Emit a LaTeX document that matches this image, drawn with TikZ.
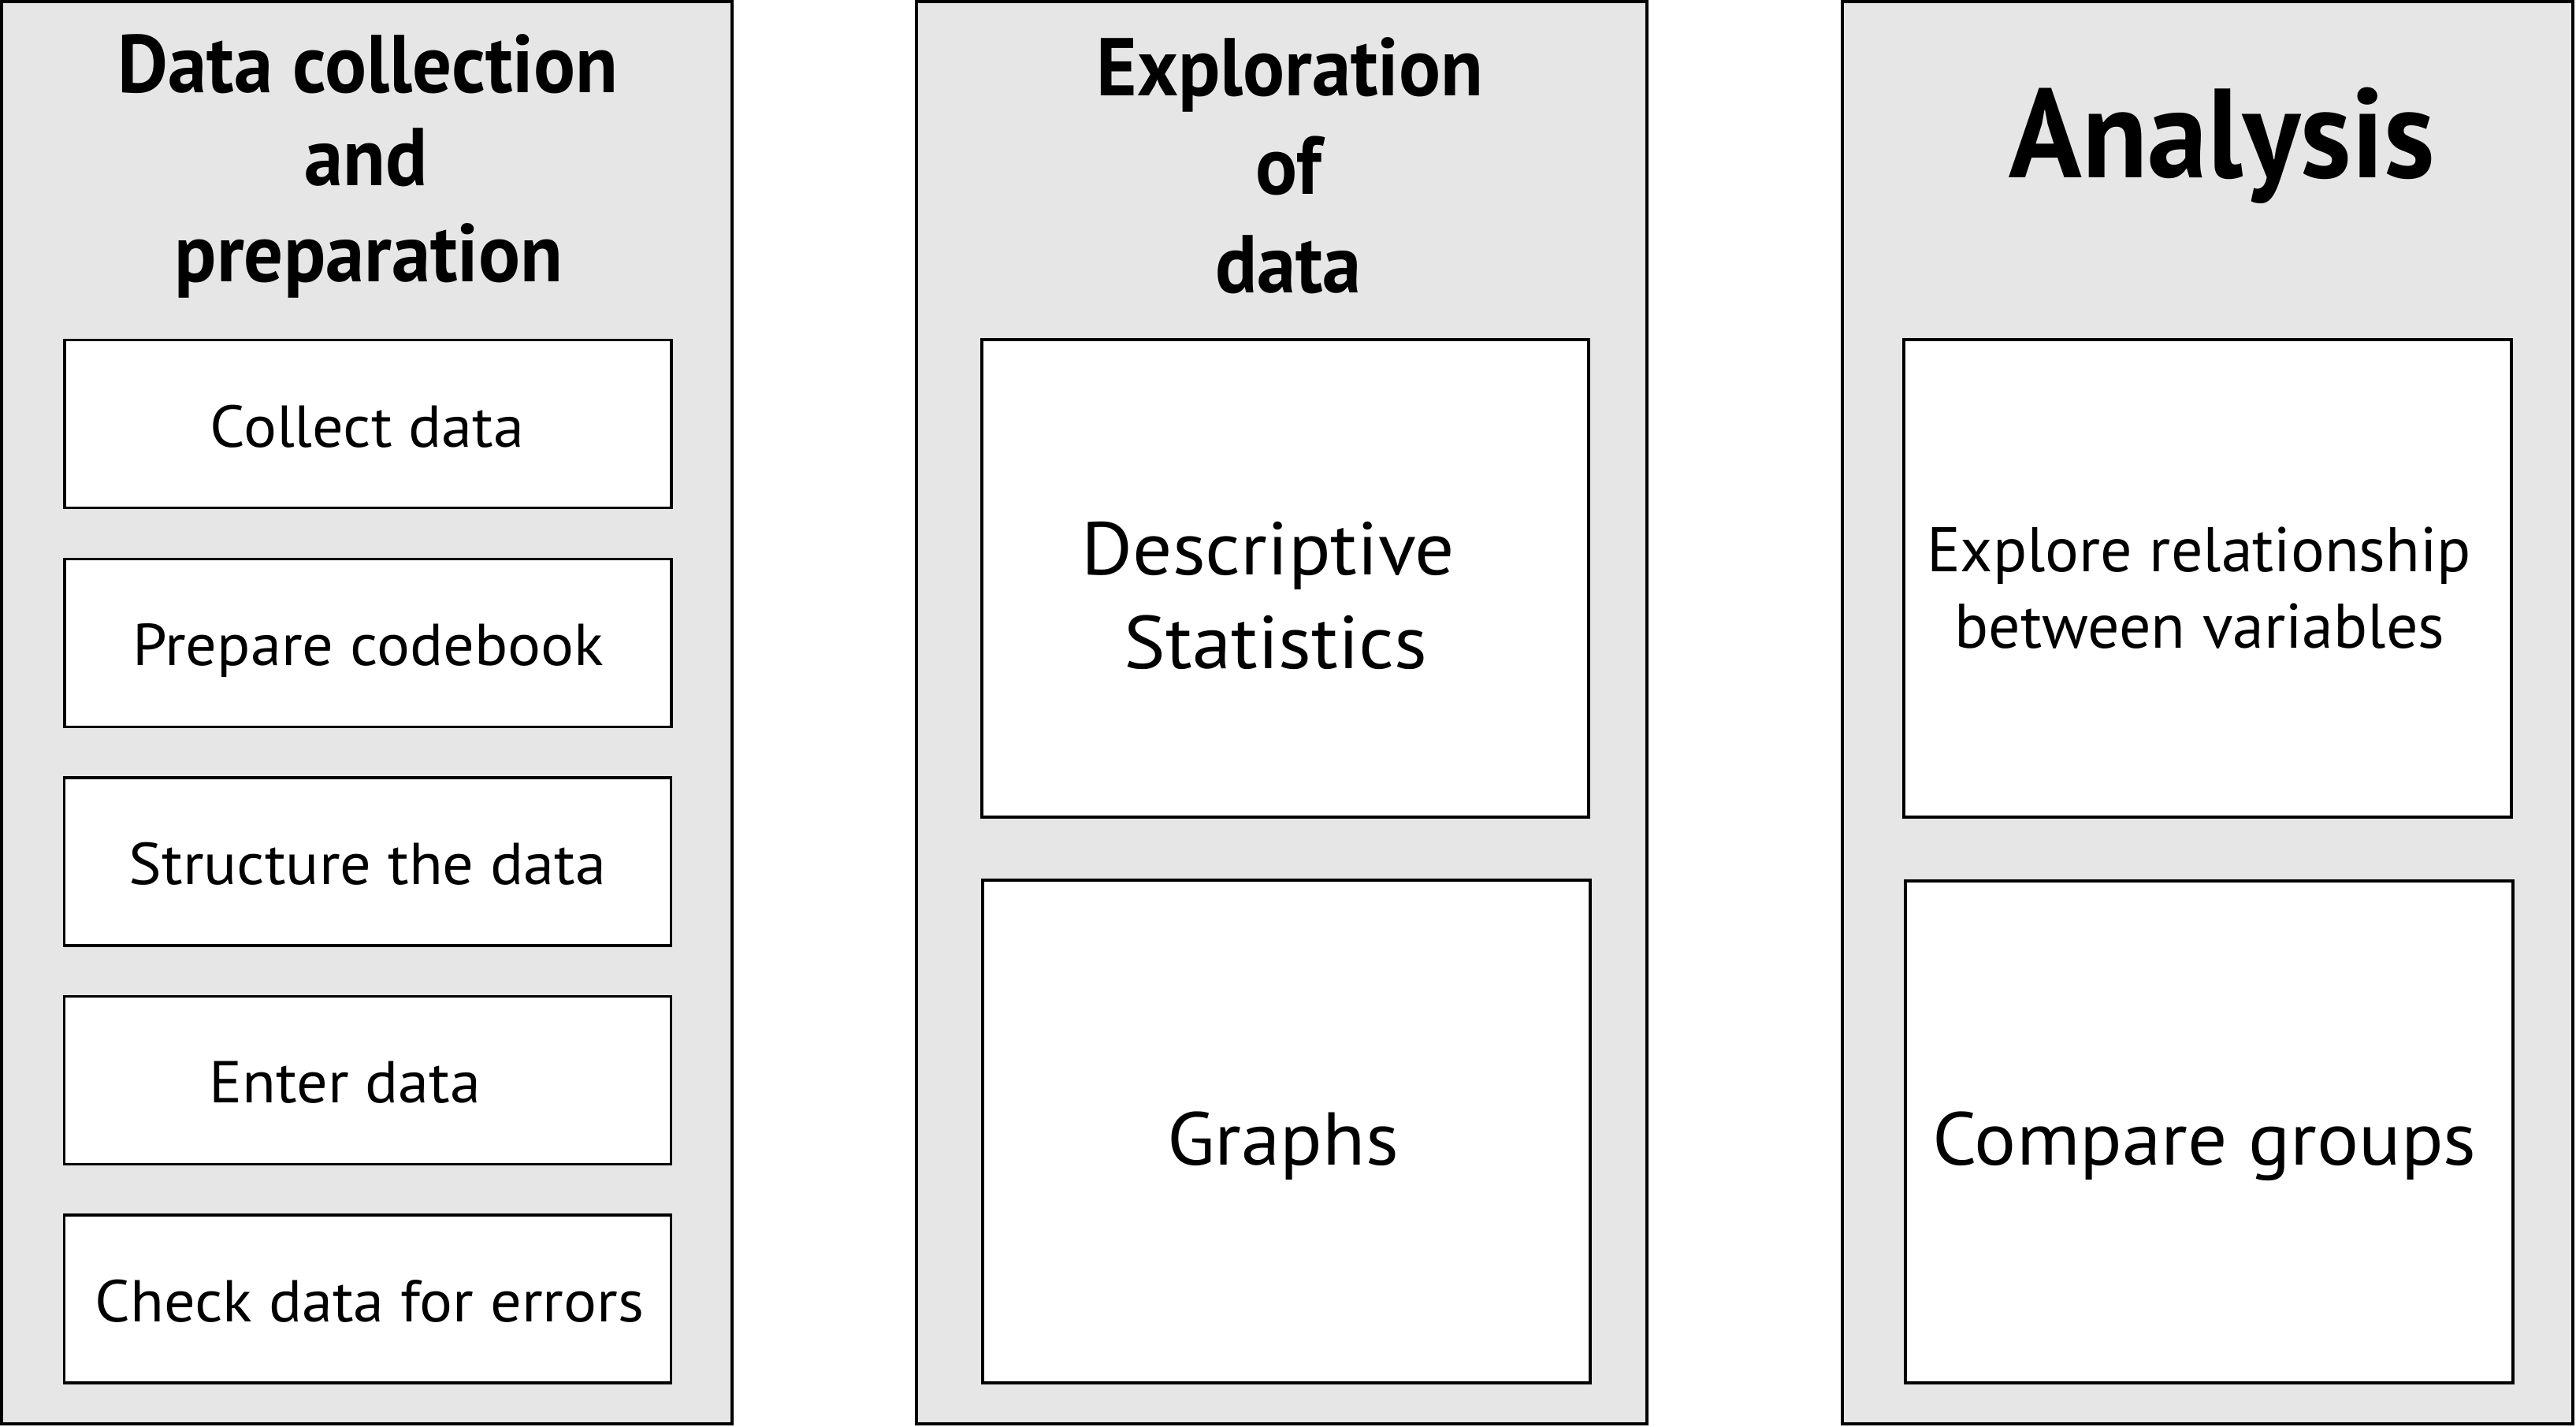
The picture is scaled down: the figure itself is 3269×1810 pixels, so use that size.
\documentclass[tikz,border=0pt]{standalone}
\usepackage{fontspec}
\setmainfont{PT Sans}
\newfontfamily\regfont[FakeStretch=1.045]{PT Sans}
\newfontfamily\plainfont{PT Sans}
\newfontfamily\boldfont[FakeStretch=0.95]{PT Sans Bold}
\definecolor{panelgray}{HTML}{E6E6E6}
\begin{document}
\begin{tikzpicture}[x=1pt,y=-1pt,
  panel/.style={draw=black, fill=panelgray, line width=4pt, rectangle, inner sep=0pt, outer sep=0pt, minimum width=927pt, minimum height=1805pt},
  stepbox/.style={draw=black, fill=white, line width=3.5pt, rectangle, inner sep=0pt, outer sep=0pt},
  smallbox/.style={stepbox, minimum width=770pt, minimum height=213pt},
  ttl/.style={anchor=base, inner sep=0pt, font=\boldfont\fontsize{104}{120}\selectfont},
  bigttl/.style={anchor=base, inner sep=0pt, font=\boldfont\fontsize{161}{180}\selectfont},
  txs/.style={anchor=base, inner sep=0pt, font=\regfont\fontsize{75}{90}\selectfont},
  txm/.style={anchor=base, inner sep=0pt, font=\plainfont\fontsize{80}{96}\selectfont},
  txl/.style={anchor=base, inner sep=0pt, font=\regfont\fontsize{95}{115}\selectfont}
]
\useasboundingbox (0,0) rectangle (3269,1810);
\fill[white] (0,0) rectangle (3269,1810);

% panels
\node[panel] (p1) at (465.5,904.5) {};
\node[panel] (p2) at (1626.5,904.5) {};
\node[panel] (p3) at (2801.5,904.5) {};

% panel 1
\node[ttl] (t1a) at (467,117) {Data collection};
\node[ttl] (t1b) at (465,235) {and};
\node[ttl] (t1c) at (468,357) {preparation};

\node[smallbox] (b1) at (467,538) {};
\node[smallbox] (b2) at (467,816) {};
\node[smallbox] (b3) at (466.5,1093.5) {};
\node[smallbox] (b4) at (466.5,1371) {};
\node[smallbox] (b5) at (466.5,1648.5) {};

\node[txs] (x1) at (466,567) {Collect data};
\node[txs] (x2) at (467,844) {Prepare codebook};
\node[txs] (x3) at (466.5,1122) {Structure the data};
\node[txs] (x4) at (438,1399) {Enter data};
\node[txs] (x5) at (469,1677) {Check data for errors};

% panel 2
\node[ttl] (t2a) at (1637,121) {Exploration};
\node[ttl] (t2b) at (1635,246) {of};
\node[ttl] (t2c) at (1635,371) {data};

\node[stepbox, minimum width=770pt, minimum height=606pt] (d1) at (1631,734) {};
\node[stepbox, minimum width=771pt, minimum height=638pt] (d2) at (1632.5,1436) {};

\node[txl] (y1) at (1609.5,729) {Descriptive};
\node[txl] (y2) at (1619,848) {Statistics};
\node[txl] (y3) at (1628,1478) {Graphs};

% panel 3
\node[bigttl] (t3) at (2820,225) {Analysis};

\node[stepbox, minimum width=771pt, minimum height=606pt] (a1) at (2801.5,734) {};
\node[stepbox, minimum width=771pt, minimum height=637pt] (a2) at (2803.5,1436.5) {};

\node[txm] (z1) at (2790.5,725) {Explore relationship};
\node[txm] (z2) at (2791.5,822) {between variables};
\node[txl] (z3) at (2797.5,1478) {Compare groups};
\end{tikzpicture}
\end{document}
